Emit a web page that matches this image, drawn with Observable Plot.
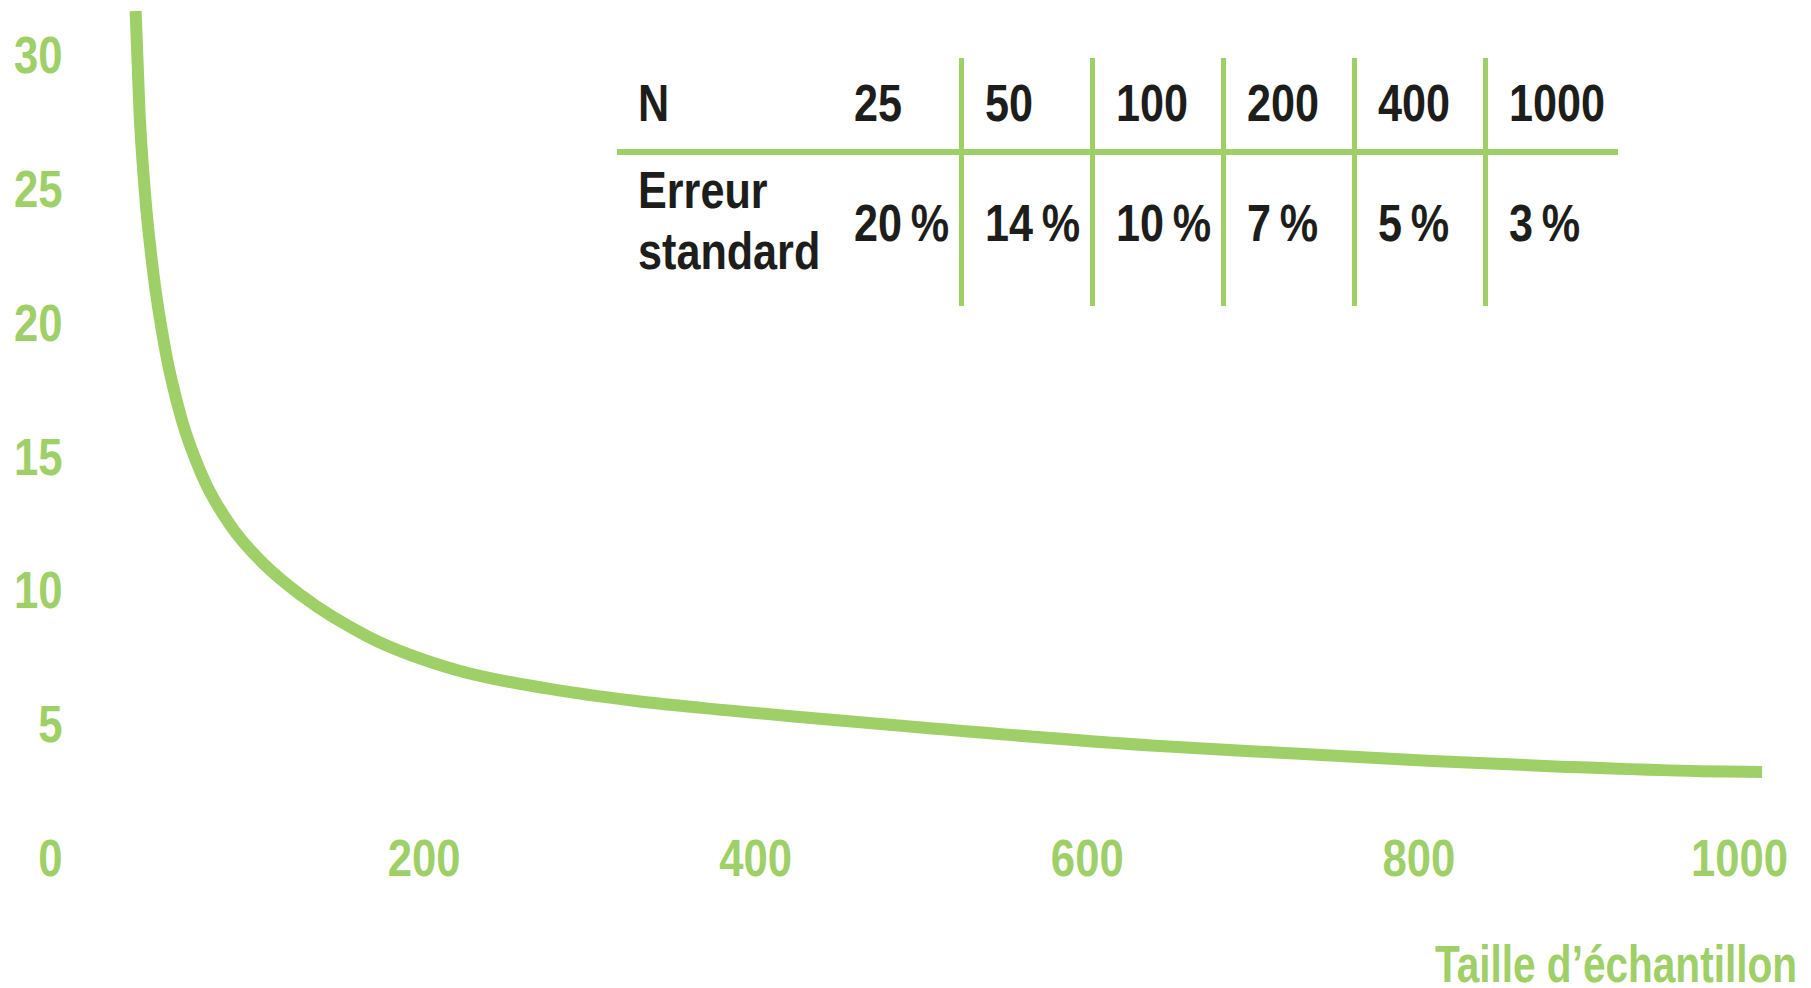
<!DOCTYPE html>
<html lang="fr">
<head>
<meta charset="utf-8">
<script src="https://cdn.jsdelivr.net/npm/d3@7"></script>
<script src="https://cdn.jsdelivr.net/npm/@observablehq/plot@0.6"></script>
<style>
  html, body { margin: 0; padding: 0; background: #fff; }
  #wrap { position: relative; width: 1811px; height: 988px; overflow: hidden; }
  #chart svg { display: block; }
  .font { font-family: "Liberation Sans", Arial, sans-serif; font-weight: bold; }
  #table {
    position: absolute; left: 617px; top: 58px;
    display: grid;
    grid-template-columns: 214px 128px 131px 131px 131px 131px 135px;
    grid-template-rows: 91px 157px;
    font-size: 52px; line-height: 61px; color: #1d1d1b;
  }
  #table .cell { display: flex; align-items: center; box-sizing: border-box; white-space: nowrap; }
  #table .cell span { display: inline-block; transform: scaleX(0.83); transform-origin: 0 50%; position: relative; }
  #table .hdr { border-bottom: 6px solid #9fcf67; height: 97px; }
  #table .sep { border-left: 5px solid #9fcf67; }
  #table .c1 { padding-left: 21px; }
  #table .c2 { padding-left: 23px; }
  #table .cn { padding-left: 21px; }
  #table .lbl2 span { top: -7px; }
  #table .val span { top: -4px; }
</style>
</head>
<body>
<div id="wrap">
  <div id="chart"></div>
  <div id="table" class="font"></div>
</div>
<script>
// ---- Data ----
const sampleSize = [26, 28.3, 31.5, 36.5, 44, 53.5, 65, 83, 104, 126, 166.4, 220.1, 274, 327.8, 381.7, 424.7, 501.7, 641, 728, 808, 889, 970, 1007];
const stdError   = [31.7, 28, 25, 22, 19, 16.5, 14.5, 12.5, 11, 9.86, 8.32, 7.07, 6.39, 5.92, 5.58, 5.33, 4.92, 4.25, 3.95, 3.68, 3.46, 3.3, 3.27];

const xTicks = [200, 400, 600, 800];
const xTickLast = [1000];
const yTicks = [0, 5, 10, 15, 20, 25, 30];
const xLabel = "Taille d’échantillon";

const tableN = [25, 50, 100, 200, 400, 1000];
const tableErr = ["20\u2009%", "14\u2009%", "10\u2009%", "7\u2009%", "5\u2009%", "3\u2009%"];
const rowLabels = ["N", "Erreur<br>standard"];

const green = "#9fcf67";
const fontFamily = '"Liberation Sans", Arial, sans-serif';

const curve = sampleSize.map((n, i) => ({n, e: stdError[i]}));

const chart = Plot.plot({
  width: 1811,
  height: 988,
  marginLeft: 92,
  marginRight: 14,
  marginTop: 56,
  marginBottom: 129,
  style: {fontFamily, fontSize: "52px", fontWeight: "bold", color: green, background: "#fff"},
  x: {domain: [0, 1000], range: [92, 1750]},
  y: {domain: [0, 30]},
  marks: [
    Plot.axisY({ticks: yTicks, tickSize: 0, tickPadding: 30, lineAnchor: "middle", label: null, tickFormat: d => String(d)}),
    Plot.axisX({ticks: xTicks, tickSize: 0, tickPadding: 0, lineAnchor: "middle", tickFormat: d => String(d),
                label: xLabel, labelAnchor: "right", labelArrow: "none", labelOffset: 122}),
    Plot.axisX({ticks: xTickLast, tickSize: 0, tickPadding: 0, lineAnchor: "middle", dx: -11, tickFormat: d => String(d), label: null}),
    Plot.line(curve, {x: "n", y: "e", stroke: green, strokeWidth: 12, curve: "monotone-x", strokeLinecap: "butt"})
  ]
});
document.getElementById("chart").append(chart);

// Condense the glyphs (the original uses a condensed face)
chart.querySelectorAll("text").forEach(t => {
  const L = t.getComputedTextLength();
  if (!L) return;
  const isTitle = t.textContent.includes("Taille");
  const f = isTitle ? 0.78 : 0.84;
  t.setAttribute("textLength", (L * f).toFixed(1));
  t.setAttribute("lengthAdjust", "spacingAndGlyphs");
  if (isTitle) {
    // keep the right edge of the axis title where the original has it
    const b = t.getBBox();
    const ctm = t.getCTM();
    const right = ctm ? ctm.a * (b.x + b.width) + ctm.e : b.x + b.width;
    const shift = 1797 - right;
    const tr = t.getAttribute("transform") || "";
    t.setAttribute("transform", `translate(${shift.toFixed(1)},0) ${tr}`.trim());
  }
});

// ---- Table (real text) ----
const tbl = document.getElementById("table");
let html = `<div class="cell hdr c1"><span>${rowLabels[0]}</span></div>`;
tableN.forEach((n, i) => {
  html += `<div class="cell hdr ${i === 0 ? "c2" : "sep cn"}"><span>${n}</span></div>`;
});
html += `<div class="cell c1 lbl2"><span>${rowLabels[1]}</span></div>`;
tableErr.forEach((v, i) => {
  html += `<div class="cell val ${i === 0 ? "c2" : "sep cn"}"><span>${v}</span></div>`;
});
tbl.innerHTML = html;
</script>
</body>
</html>
